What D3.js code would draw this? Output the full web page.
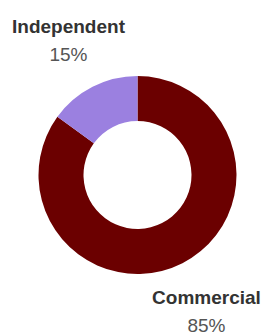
<!DOCTYPE html>
<html>
<head>
<meta charset="utf-8">
<script src="https://cdn.jsdelivr.net/npm/d3@7"></script>
<style>
  body { margin: 0; background: #fff; }
  svg { display: block; }
</style>
</head>
<body>
<script>
var categorias = ["Commercial", "Independent"];
var valores = [85, 15];
var colores = ["#6b0000", "#9b80e0"];

function graficar() {
    var w = 266;
    var h = 332;
    var cx = 137.5, cy = 175;

    var svg = d3.select("body")
        .append("svg")
        .attr("width", w)
        .attr("height", h);

    var g = svg.append("g")
        .attr("transform", "translate(" + cx + "," + cy + ")");

    var pie = d3.pie().sort(null).value(function(d) { return d; });
    var arcos = pie(valores);

    var arc = d3.arc().innerRadius(54).outerRadius(99);
    var arcLabel = d3.arc().innerRadius(152).outerRadius(152); // etiquetas fuera del anillo

    g.selectAll("path")
        .data(arcos)
        .enter()
        .append("path")
        .attr("d", arc)
        .attr("fill", function(d, i) { return colores[i]; });

    var etiquetas = g.selectAll("g.label")
        .data(arcos)
        .enter()
        .append("g")
        .attr("class", "label")
        .attr("transform", function(d) {
            var c = arcLabel.centroid(d);
            return "translate(" + c[0] + "," + c[1] + ")";
        });

    etiquetas.append("text")
        .attr("text-anchor", "middle")
        .attr("y", -6.5)
        .style("font-family", "Liberation Sans, Arial, sans-serif")
        .style("font-weight", "bold")
        .style("font-size", "19px")
        .style("fill", "#333")
        .text(function(d, i) { return categorias[i]; });

    etiquetas.append("text")
        .attr("text-anchor", "middle")
        .attr("y", 21.5)
        .style("font-family", "Liberation Sans, Arial, sans-serif")
        .style("font-size", "19px")
        .style("fill", "#555")
        .text(function(d) { return d.data + "%"; });
}

graficar();
</script>
</body>
</html>
